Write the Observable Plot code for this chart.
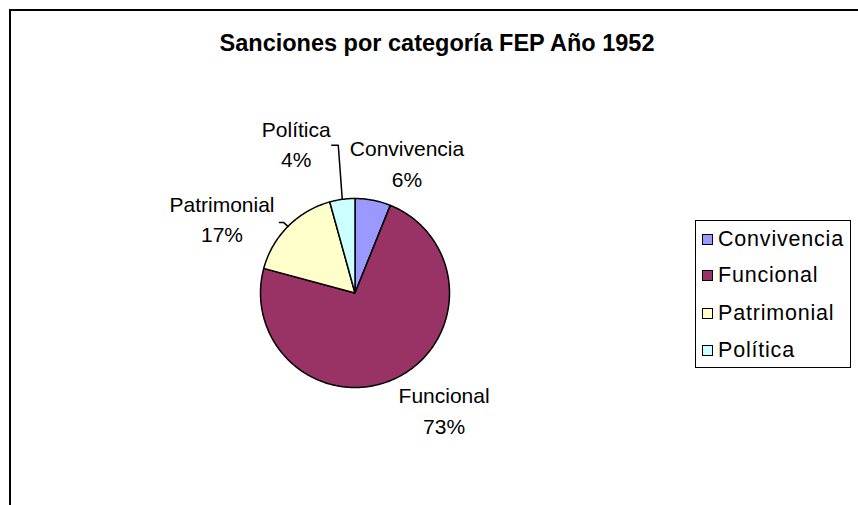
<!DOCTYPE html>
<html>
<head>
<meta charset="utf-8">
<script src="https://cdn.jsdelivr.net/npm/d3@7"></script>
<script src="https://cdn.jsdelivr.net/npm/@observablehq/plot@0.6"></script>
<style>
  html, body { margin: 0; padding: 0; background: #fff; }
  #wrap { position: relative; width: 858px; height: 505px; overflow: hidden; font-family: "Liberation Sans", Arial, sans-serif; }
  #frame { position: absolute; left: 9px; top: 9px; width: 900px; height: 600px; border-left: 2px solid #000; border-top: 2px solid #000; }
  #title { position: absolute; left: 0; width: 874px; top: 30px; text-align: center; font-weight: bold; font-size: 23.5px; color: #000; white-space: nowrap; }
  #chart { position: absolute; left: 0; top: 0; }
  #legend { position: absolute; left: 695px; top: 220px; width: 154px; height: 146px; border: 1.5px solid #000; background: #fff; }
  .item { position: absolute; left: 6px; height: 24px; display: flex; align-items: center; font-size: 21.5px; letter-spacing: 0.8px; color: #000; white-space: nowrap; }
  .sw { width: 11px; height: 11px; border: 1.5px solid #000; margin-right: 5px; box-sizing: border-box; }
</style>
</head>
<body>
<div id="wrap">
  <div id="frame"></div>
  <div id="title">Sanciones por categoría FEP Año 1952</div>
  <div id="chart"></div>
  <div id="legend"></div>
</div>
<script>
// ---- data ----
const categories = ["Convivencia", "Funcional", "Patrimonial", "Política"];
const shares = [6.1, 73.1, 16.5, 4.3];
const colors = ["#9999FF", "#993366", "#FFFFCC", "#CCFFFF"];
const titleText = "Sanciones por categoría FEP Año 1952";

// ---- layout (pixels) ----
const W = 858, H = 505;
const cx = 354.5, cy = 292.5, R = 94.5;
// label offsets from the slice's mid-angle rim point: [dx, dyName, dyPct]
const labelOffsets = {
  "Convivencia": [34, -51, -20],
  "Funcional": [47, 19, 50],
  "Patrimonial": [-66, -21, 9],
  "Política": [-46, -69, -39]
};
// leader lines (pixel offsets from rim point)
const leaderOffsets = {
  "Política": [[0, 0], [-4, -54], [-10.5, -54]],
  "Patrimonial": [[0, 0], [-4.5, -4], [-8.5, -4]]
};

const rows = categories.map((c, i) => ({cat: c, share: shares[i], color: colors[i]}));
const total = d3.sum(shares);
const arcs = d3.pie().sort(null).value(d => d.share)(rows);

// slice outlines
const slicePts = arcs.flatMap(a => {
  const n = Math.max(2, Math.ceil((a.endAngle - a.startAngle) / (Math.PI / 180)));
  const pts = [{cat: a.data.cat, x: 0, y: 0}];
  for (let i = 0; i <= n; i++) {
    const t = a.startAngle + (a.endAngle - a.startAngle) * i / n;
    pts.push({cat: a.data.cat, x: Math.sin(t), y: Math.cos(t)});
  }
  return pts;
});

const mid = a => (a.startAngle + a.endAngle) / 2;
const labelRows = arcs.flatMap(a => {
  const m = mid(a), o = labelOffsets[a.data.cat];
  const bx = Math.sin(m), by = Math.cos(m);
  const pct = Math.round(a.data.share / total * 100) + "%";
  return [
    {text: a.data.cat, x: bx + o[0] / R, y: by - o[1] / R},
    {text: pct, x: bx + o[0] / R, y: by - o[2] / R}
  ];
});
const leaderPts = arcs.filter(a => leaderOffsets[a.data.cat]).flatMap(a => {
  const m = mid(a), bx = Math.sin(m), by = Math.cos(m);
  return leaderOffsets[a.data.cat].map(([dx, dy]) => ({cat: a.data.cat, x: bx + dx / R, y: by - dy / R}));
});

const plot = Plot.plot({
  width: W, height: H,
  margin: 0,
  style: {background: "transparent", fontFamily: "'Liberation Sans', Arial, sans-serif"},
  x: {type: "linear", domain: [-1, 1], range: [cx - R, cx + R], axis: null},
  y: {type: "linear", domain: [-1, 1], range: [cy + R, cy - R], axis: null},
  color: {domain: categories, range: colors},
  marks: [
    Plot.line(slicePts, {x: "x", y: "y", z: "cat", fill: "cat", stroke: "#000", strokeWidth: 1.5, curve: "linear-closed", strokeLinejoin: "round"}),
    Plot.line(leaderPts, {x: "x", y: "y", z: "cat", stroke: "#000", strokeWidth: 1.5}),
    Plot.text(labelRows, {x: "x", y: "y", text: "text", fontSize: 21, fill: "#000", textAnchor: "middle", lineAnchor: "middle"})
  ]
});
document.getElementById("chart").appendChild(plot);

document.getElementById("title").textContent = titleText;
const legend = document.getElementById("legend");
const rowTops = [6, 42, 80, 117];
rows.forEach((r, i) => {
  const it = document.createElement("div");
  it.className = "item";
  it.style.top = rowTops[i] + "px";
  const sw = document.createElement("div");
  sw.className = "sw";
  sw.style.background = r.color;
  const tx = document.createElement("span");
  tx.textContent = r.cat;
  it.appendChild(sw); it.appendChild(tx);
  legend.appendChild(it);
});
</script>
</body>
</html>
